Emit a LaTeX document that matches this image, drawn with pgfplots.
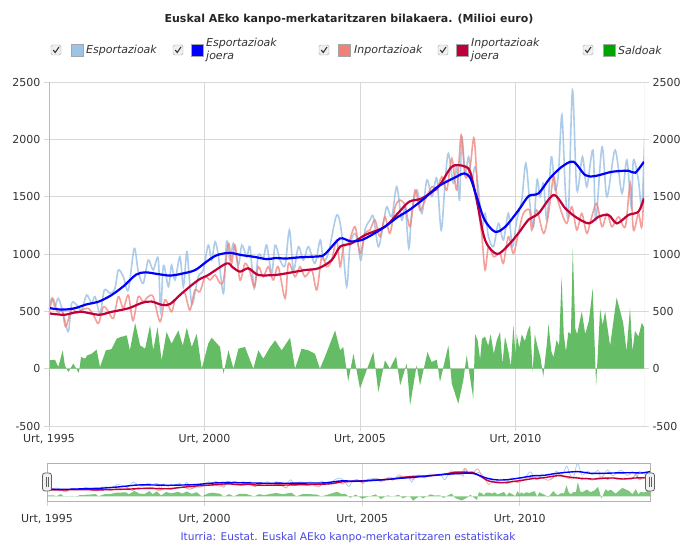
\documentclass[border=0pt]{standalone}
\usepackage{fontspec}
\setmainfont{DejaVu Sans}
\usepackage{pgfplots}
\pgfplotsset{compat=1.18}
\usepackage{pgfplotstable}

\definecolor{expc}{HTML}{9DC3E6}
\definecolor{expt}{HTML}{0000FF}
\definecolor{impc}{HTML}{F08078}
\definecolor{impt}{HTML}{C0003A}
\definecolor{salc}{HTML}{5CB85C}
\definecolor{gridc}{HTML}{D8D8D8}
\definecolor{txt}{HTML}{333333}
\definecolor{src}{HTML}{4646E6}

\pgfplotstableread{
x y
1995.00 526
1995.09 613
1995.19 540
1995.30 613
1995.46 482
1995.62 323
1995.73 570
1995.89 555
1996.05 511
1996.21 642
1996.37 570
1996.48 628
1996.64 482
1996.78 686
1996.96 657
1997.12 700
1997.23 860
1997.39 802
1997.55 686
1997.74 1049
1997.87 846
1998.03 744
1998.19 947
1998.35 860
1998.51 962
1998.59 500
1998.68 900
1998.84 715
1998.94 904
1999.05 773
1999.21 976
1999.32 715
1999.43 1020
1999.50 831
1999.60 560
1999.80 802
1999.96 860
2000.12 1078
2000.23 947
2000.34 1107
2000.45 976
2000.61 657
2000.71 1107
2000.82 947
2000.93 1093
2001.09 904
2001.20 1078
2001.36 976
2001.46 1064
2001.60 700
2001.73 991
2001.89 962
2002.00 1078
2002.16 831
2002.27 1078
2002.43 947
2002.59 900
2002.73 1209
2002.86 860
2003.02 1064
2003.18 947
2003.34 1064
2003.55 918
2003.72 1122
2003.82 947
2003.98 1005
2004.25 1340
2004.41 1180
2004.57 715
2004.68 1078
2004.84 1180
2004.95 1064
2005.03 947
2005.16 1209
2005.32 1296
2005.43 1325
2005.59 1064
2005.75 1267
2005.86 1412
2006.02 1325
2006.18 1587
2006.34 1296
2006.45 1420
2006.57 1050
2006.66 1354
2006.83 1558
2006.99 1354
2007.15 1645
2007.31 1500
2007.47 1659
2007.61 1209
2007.74 1645
2007.84 1877
2008.00 1616
2008.11 1761
2008.20 1470
2008.27 2023
2008.38 1703
2008.49 1848
2008.59 1645
2008.70 1761
2008.81 1558
2008.92 1238
2009.02 1354
2009.13 1151
2009.29 1064
2009.45 1267
2009.61 1122
2009.77 1354
2009.90 1064
2010.04 1296
2010.20 1470
2010.33 1790
2010.47 1412
2010.58 1238
2010.69 1645
2010.79 1500
2010.90 1616
2011.01 1296
2011.15 1848
2011.27 1558
2011.38 1703
2011.49 2211
2011.60 1558
2011.70 1354
2011.83 2429
2011.97 1558
2012.15 1848
2012.29 1587
2012.49 1906
2012.58 1296
2012.78 1935
2012.94 1500
2013.20 1906
2013.42 1529
2013.58 1819
2013.72 1412
2013.79 1819
2013.95 1645
2014.06 1412
2014.15 2008
}\exports

\pgfplotstableread{
x y
1995.00 482
1995.12 613
1995.27 497
1995.43 497
1995.54 366
1995.73 526
1995.89 482
1996.05 511
1996.26 526
1996.43 468
1996.59 395
1996.75 540
1996.91 497
1997.07 439
1997.23 628
1997.39 526
1997.55 642
1997.70 420
1997.87 628
1998.03 584
1998.19 628
1998.35 628
1998.57 410
1998.73 600
1998.94 497
1999.05 599
1999.21 642
1999.37 657
1999.53 511
1999.69 686
1999.85 671
2000.02 802
2000.18 773
2000.34 817
2000.50 744
2000.61 773
2000.77 1093
2000.87 918
2000.98 1078
2001.14 773
2001.30 918
2001.46 846
2001.60 715
2001.73 889
2001.89 802
2002.05 889
2002.21 773
2002.37 889
2002.59 613
2002.70 918
2002.91 802
2003.07 889
2003.23 802
2003.45 860
2003.61 686
2003.77 976
2003.93 889
2004.09 947
2004.25 1122
2004.36 889
2004.47 1064
2004.63 1093
2004.84 1238
2005.00 1005
2005.16 1180
2005.32 1209
2005.48 1296
2005.64 1151
2005.80 1325
2005.96 1180
2006.13 1412
2006.29 1470
2006.45 1420
2006.61 1238
2006.77 1558
2006.93 1383
2007.09 1470
2007.31 1587
2007.47 1558
2007.63 1674
2007.79 1558
2007.95 1834
2008.11 1558
2008.25 2037
2008.38 1674
2008.54 1761
2008.67 2008
2008.81 1412
2008.92 1151
2009.02 860
2009.13 1064
2009.29 976
2009.50 1005
2009.61 918
2009.77 1151
2009.93 1005
2010.09 1180
2010.25 1354
2010.45 1383
2010.52 1209
2010.68 1383
2010.90 1180
2011.06 1354
2011.22 1674
2011.33 1500
2011.49 1354
2011.65 1267
2011.81 1412
2011.97 1209
2012.13 1354
2012.29 1180
2012.45 1325
2012.61 1441
2012.78 1238
2012.94 1354
2013.10 1238
2013.31 1325
2013.53 1238
2013.69 1616
2013.79 1209
2013.95 1354
2014.06 1238
2014.15 1645
}\imports

\pgfplotstableread{
x y
1995.00 529
1995.40 515
1995.80 525
1996.20 560
1996.60 585
1997.00 640
1997.40 720
1997.80 820
1998.10 840
1998.50 825
1998.90 812
1999.30 830
1999.70 860
2000.10 940
2000.40 990
2000.80 1010
2001.20 990
2001.60 975
2002.00 955
2002.30 965
2002.60 960
2003.00 970
2003.45 976
2003.80 985
2004.00 1035
2004.36 1136
2004.70 1110
2005.05 1122
2005.40 1170
2005.80 1238
2006.20 1320
2006.58 1383
2007.00 1470
2007.50 1587
2008.10 1674
2008.35 1703
2008.55 1660
2008.75 1500
2009.00 1300
2009.34 1194
2009.67 1238
2010.10 1383
2010.42 1505
2010.74 1529
2011.10 1659
2011.49 1761
2011.86 1805
2012.24 1688
2012.56 1680
2013.10 1717
2013.63 1726
2013.85 1709
2014.13 1805
}\exptrend

\pgfplotstableread{
x y
1995.00 482
1995.50 470
1996.00 497
1996.60 470
1997.00 495
1997.55 526
1998.00 575
1998.30 585
1998.65 555
1998.90 565
1999.27 657
1999.80 773
2000.12 817
2000.71 918
2000.90 885
2001.14 846
2001.41 875
2001.73 817
2002.27 817
2002.60 830
2003.23 860
2003.66 875
2004.09 947
2004.36 1064
2004.73 1093
2005.16 1165
2005.80 1238
2006.20 1350
2006.58 1456
2006.99 1485
2007.52 1587
2007.95 1761
2008.33 1767
2008.54 1717
2008.75 1470
2009.02 1122
2009.40 1000
2009.77 1078
2010.09 1180
2010.42 1300
2010.74 1354
2011.22 1514
2011.60 1398
2011.92 1325
2012.35 1267
2012.67 1325
2012.99 1340
2013.26 1267
2013.63 1340
2013.95 1369
2014.13 1485
}\imptrend

\pgfplotstableread{
x y
1995.03 73
1995.19 78
1995.30 15
1995.44 160
1995.51 29
1995.62 -29
1995.78 44
1995.96 -38
1996.03 102
1996.16 87
1996.23 116
1996.37 130
1996.53 166
1996.64 15
1996.83 160
1997.01 170
1997.18 262
1997.30 276
1997.50 290
1997.60 160
1997.77 398
1997.93 203
1998.09 174
1998.25 378
1998.35 160
1998.49 363
1998.62 73
1998.78 320
1998.94 218
1999.16 334
1999.30 200
1999.43 357
1999.59 189
1999.75 305
1999.91 0
2000.12 218
2000.23 270
2000.50 189
2000.61 -44
2000.77 160
2000.93 0
2001.09 174
2001.30 189
2001.57 0
2001.73 160
2001.89 87
2002.11 189
2002.27 247
2002.48 160
2002.75 270
2002.91 0
2003.12 174
2003.34 160
2003.55 130
2003.71 0
2003.87 102
2004.20 334
2004.36 160
2004.46 189
2004.62 -110
2004.79 130
2005.00 -174
2005.21 -15
2005.43 145
2005.59 -203
2005.80 73
2005.96 0
2006.16 108
2006.29 -145
2006.50 44
2006.61 -320
2006.82 29
2006.93 -145
2007.17 145
2007.30 58
2007.47 78
2007.57 -116
2007.84 203
2007.95 -131
2008.16 -305
2008.32 -102
2008.43 116
2008.64 -262
2008.70 300
2008.78 250
2008.86 80
2008.92 260
2009.02 280
2009.12 200
2009.20 300
2009.30 130
2009.40 250
2009.50 320
2009.58 40
2009.66 280
2009.77 150
2009.85 20
2009.93 380
2010.00 120
2010.04 300
2010.12 180
2010.20 300
2010.30 240
2010.40 340
2010.47 380
2010.55 -30
2010.62 300
2010.70 200
2010.80 100
2010.89 -70
2011.00 200
2011.06 390
2011.15 150
2011.22 100
2011.32 250
2011.40 200
2011.48 800
2011.55 300
2011.62 150
2011.70 320
2011.78 300
2011.84 1044
2011.92 350
2011.98 300
2012.13 500
2012.24 300
2012.36 420
2012.48 700
2012.59 -150
2012.72 520
2012.80 380
2012.88 500
2013.04 200
2013.25 620
2013.46 400
2013.57 150
2013.68 530
2013.76 150
2013.84 330
2013.95 280
2014.06 400
2014.15 350
}\saldo

\newcommand{\tfont}{\fontsize{11bp}{13bp}\selectfont}
\newcommand{\chkbox}[1]{%
  \draw[draw=gray!70, fill=gray!12, rounded corners=1.5bp] ($(#1)+(-5bp,-5bp)$) rectangle ($(#1)+(5bp,5bp)$);
  \draw[black!80, line width=1.1bp] ($(#1)+(-2.8bp,0bp)$) -- ($(#1)+(-0.8bp,-2.5bp)$) -- ($(#1)+(3bp,3bp)$);}
\newcommand{\colbox}[2]{%
  \draw[draw=gray!70, fill=#2] ($(#1)+(-6bp,-6bp)$) rectangle ($(#1)+(6bp,6bp)$);}
\usetikzlibrary{calc}

\begin{document}
\begin{tikzpicture}
\useasboundingbox (0,0) rectangle (684bp,545bp);

% main axis
\begin{axis}[
  at={(49bp,119bp)}, anchor=south west,
  width=595bp, height=344bp, scale only axis,
  xmin=1995, xmax=2014.13, ymin=-500, ymax=2500,
  xtick={1995,2000,2005,2010},
  xticklabels={{Urt, 1995},{Urt, 2000},{Urt, 2005},{Urt, 2010}},
  ytick={-500,0,500,1000,1500,2000,2500},
  /pgf/number format/1000 sep={},
  /pgf/number format/assume math mode=true,
  grid=major, major grid style={draw=gridc, line width=0.8bp},
  axis line style={draw=none},
  xtick pos=left, ytick pos=left, tick align=outside,
  major tick length=5bp, tick style={draw=gridc, line width=0.8bp},
  ticklabel style={font=\tfont, text=txt},
  extra y ticks={0}, extra y tick labels={},
  extra y tick style={grid style={draw=black!70, line width=1.1bp}, major tick length=0bp},
  clip=true,
]
\addplot[draw=none, fill=salc, fill opacity=0.95] table {\saldo} \closedcycle;
\addplot[expc, line width=1.6bp, opacity=0.85, smooth, tension=0.5] table {\exports};
\addplot[impc, line width=1.6bp, opacity=0.75, smooth, tension=0.5] table {\imports};
\addplot[impt, line width=2.2bp, smooth, tension=0.5] table {\imptrend};
\addplot[expt, line width=2.2bp, smooth, tension=0.5] table {\exptrend};
\draw[gray!55, line width=0.8bp] (rel axis cs:0,0) -- (rel axis cs:0,1);
\draw[gray!55, line width=0.8bp] (rel axis cs:1,0) -- (rel axis cs:1,1);
\end{axis}

% right tick labels
\begin{axis}[
  at={(49bp,119bp)}, anchor=south west,
  width=595bp, height=344bp, scale only axis,
  xmin=1995, xmax=2014.13, ymin=-500, ymax=2500,
  xtick=\empty,
  ytick={-500,0,500,1000,1500,2000,2500},
  /pgf/number format/1000 sep={},
  /pgf/number format/assume math mode=true,
  axis line style={draw=none},
  ytick pos=right, yticklabel pos=right, tick align=outside,
  major tick length=5bp, tick style={draw=gridc, line width=0.8bp},
  ticklabel style={font=\tfont, text=txt},
]
\addplot[draw=none] coordinates {(1995,0)};
\end{axis}

% navigator
\begin{axis}[
  at={(47bp,44bp)}, anchor=south west,
  width=603bp, height=38bp, scale only axis,
  xmin=1995, xmax=2014.13, ymin=-340, ymax=2440,
  xtick={1995,2000,2005,2010},
  xticklabels={{Urt, 1995},{Urt, 2000},{Urt, 2005},{Urt, 2010}},
  ytick=\empty,
  xmajorgrids, major grid style={draw=gridc, line width=0.8bp},
  axis line style={draw=gray!60, line width=0.8bp},
  xtick pos=left, tick align=outside,
  major tick length=5bp, tick style={draw=gridc, line width=0.8bp},
  ticklabel style={font=\tfont, text=txt},
  xticklabel style={yshift=-5bp},
  clip=true,
]
\addplot[draw=none, fill=salc, fill opacity=0.8] table {\saldo} \closedcycle;
\addplot[expc, line width=0.8bp, opacity=0.8, smooth, tension=0.5] table {\exports};
\addplot[impc, line width=0.8bp, opacity=0.7, smooth, tension=0.5] table {\imports};
\addplot[impt, line width=1.4bp, smooth, tension=0.5] table {\imptrend};
\addplot[expt, line width=1.4bp, smooth, tension=0.5] table {\exptrend};
\end{axis}

% handles
\foreach \hx in {47,650}{
  \draw[draw=gray!75!black, fill=gray!12, rounded corners=2.5bp, line width=0.8bp] (\hx bp-4.5bp,54bp) rectangle (\hx bp+4.5bp,72bp);
  \draw[gray!75!black, line width=0.6bp] (\hx bp-1.2bp,58bp) -- (\hx bp-1.2bp,68bp);
  \draw[gray!75!black, line width=0.6bp] (\hx bp+1.2bp,58bp) -- (\hx bp+1.2bp,68bp);
}

% title
\node[font=\bfseries\tfont, text=black!85] at (349bp,526bp) {Euskal AEko kanpo-merkataritzaren bilakaera. (Milioi euro)};

% legend
\chkbox{56bp,495bp}
\colbox{77bp,495bp}{expc}
\node[anchor=west, font=\itshape\tfont, text=txt, inner sep=0pt] at (86bp,495bp) {Esportazioak};
\chkbox{178bp,495bp}
\colbox{197bp,495bp}{expt}
\node[anchor=west, font=\itshape\tfont, text=txt, inner sep=0pt, align=left] at (206bp,495bp) {Esportazioak\\joera};
\chkbox{324bp,495bp}
\colbox{344bp,495bp}{impc}
\node[anchor=west, font=\itshape\tfont, text=txt, inner sep=0pt] at (354bp,495bp) {Inportazioak};
\chkbox{443bp,495bp}
\colbox{462bp,495bp}{impt}
\node[anchor=west, font=\itshape\tfont, text=txt, inner sep=0pt, align=left] at (471bp,495bp) {Inportazioak\\joera};
\chkbox{588bp,495bp}
\colbox{609bp,495bp}{green!65!black}
\node[anchor=west, font=\itshape\tfont, text=txt, inner sep=0pt] at (618bp,495bp) {Saldoak};

% source
\node[font=\fontsize{10.6bp}{12bp}\selectfont, text=src] at (348bp,7bp) {Iturria: Eustat. Euskal AEko kanpo-merkataritzaren estatistikak};
\end{tikzpicture}
\end{document}
